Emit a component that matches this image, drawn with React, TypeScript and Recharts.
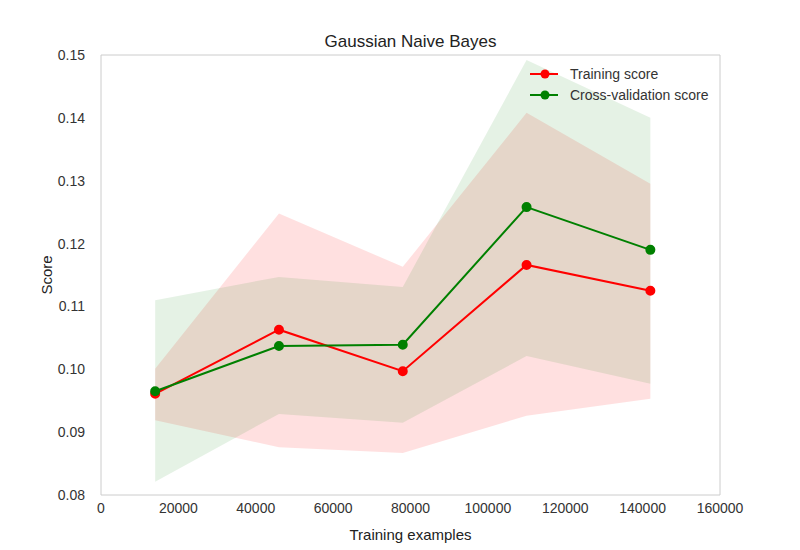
import React from 'react';
import { ComposedChart, Line, Area, XAxis, YAxis, ReferenceArea } from 'recharts';

const trainSizes = [14000, 46000, 78000, 110000, 142000];
const trainMean = [0.0961, 0.1063, 0.0997, 0.1166, 0.1125];
const trainLow = [0.0919, 0.0876, 0.0867, 0.0926, 0.0953];
const trainHigh = [0.1001, 0.1248, 0.1163, 0.1408, 0.1295];
const cvMean = [0.0965, 0.1037, 0.1039, 0.1258, 0.1190];
const cvLow = [0.0821, 0.0929, 0.0915, 0.1021, 0.0977];
const cvHigh = [0.1110, 0.1147, 0.1131, 0.1492, 0.1400];
const xTicks = [0, 20000, 40000, 60000, 80000, 100000, 120000, 140000, 160000];
const yTicks = [0.08, 0.09, 0.1, 0.11, 0.12, 0.13, 0.14, 0.15];
const legendItems = [['Training score', 'red'], ['Cross-validation score', 'green']];

const data = trainSizes.map((x, i) => ({
  x,
  train: trainMean[i],
  trainBand: [trainLow[i], trainHigh[i]],
  cv: cvMean[i],
  cvBand: [cvLow[i], cvHigh[i]],
}));

const font = '"Liberation Sans", Arial, sans-serif';
const tick = { fill: '#333', fontSize: 14, fontFamily: font };

export default function App() {
  return (
    <div style={{ position: 'absolute', left: 0, top: 0, width: 800, height: 550, background: '#fff' }}>
      <div style={{ position: 'absolute', top: 32, left: 101, width: 619, textAlign: 'center', fontFamily: font, fontSize: 17, color: '#222' }}>
        Gaussian Naive Bayes
      </div>
      <div style={{ position: 'absolute', top: 63, left: 529, fontFamily: font, fontSize: 14, color: '#333', zIndex: 2 }}>
        {legendItems.map(([n, c]) => (
          <div key={n} style={{ display: 'flex', alignItems: 'center', height: 21 }}>
            <svg width={30} height={12} style={{ marginRight: 11 }}>
              <line x1={1} y1={6} x2={29} y2={6} stroke={c} strokeWidth={2} />
              <circle cx={16} cy={6} r={4.5} fill={c} />
            </svg>
            {n}
          </div>
        ))}
      </div>
      <ComposedChart width={800} height={550} data={data} margin={{ top: 55, right: 80, left: 0, bottom: 0 }}>
        <XAxis dataKey="x" type="number" domain={[0, 160000]} ticks={xTicks} tickLine={false} axisLine={false}
          tick={tick} tickMargin={2} height={55} interval={0}
          label={{ value: 'Training examples', position: 'insideBottom', offset: 10, fill: '#222', fontSize: 15, fontFamily: font }} />
        <YAxis type="number" domain={[0.08, 0.15]} ticks={yTicks} tickLine={false} axisLine={false}
          tick={tick} width={101} tickMargin={10} tickFormatter={(v: number) => v.toFixed(2)}
          label={({ viewBox }: any) => (
            <text x={52} y={viewBox.y + viewBox.height / 2} transform={`rotate(-90 52 ${viewBox.y + viewBox.height / 2})`}
              textAnchor="middle" fill="#222" fontSize={15} fontFamily={font}>Score</text>
          )} />
        <ReferenceArea x1={0} x2={160000} y1={0.08} y2={0.15} fill="none" stroke="#cccccc" strokeWidth={1} ifOverflow="extendDomain" />
        <Area dataKey="trainBand" type="linear" stroke="none" fill="#ff0000" fillOpacity={0.12} legendType="none" isAnimationActive={false} />
        <Area dataKey="cvBand" type="linear" stroke="none" fill="#008000" fillOpacity={0.1} legendType="none" isAnimationActive={false} />
        <Line dataKey="train" name="Training score" stroke="red" strokeWidth={2} dot={{ r: 4, fill: 'red', stroke: 'red' }} isAnimationActive={false} />
        <Line dataKey="cv" name="Cross-validation score" stroke="green" strokeWidth={2} dot={{ r: 4, fill: 'green', stroke: 'green' }} isAnimationActive={false} />
      </ComposedChart>
    </div>
  );
}
